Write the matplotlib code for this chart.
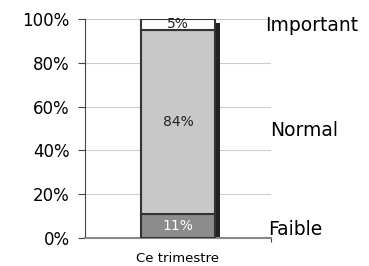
import matplotlib.pyplot as plt
from matplotlib.patches import Rectangle
from matplotlib.transforms import offset_copy

category = 'Ce trimestre'
levels = ['Faible', 'Normal', 'Important']
values = [11, 84, 5]
seg_colors = ['#8c8c8c', '#c8c8c8', '#ffffff']
txt_colors = ['white', '#222222', '#222222']
ticks = [0, 20, 40, 60, 80, 100]

fig = plt.figure(figsize=(3.69, 2.66), dpi=100)
ax = fig.add_axes([85/369, 28/266, 186/369, 219/266])

w = 0.4
# shadow behind the stack, clipped at the axis
sh = Rectangle((-w/2, 0), w, sum(values), facecolor='#222222', edgecolor='none',
               transform=offset_copy(ax.transData, fig=fig, x=5, y=-4, units='dots'),
               zorder=2, clip_on=True)
ax.add_patch(sh)

bottom = 0
for v, c, tc in zip(values, seg_colors, txt_colors):
    ax.bar(0, v, width=w, bottom=bottom, color=c, edgecolor='#333333',
           linewidth=1.5, zorder=3)
    ax.text(0, bottom + v/2, f'{v}%', ha='center', va='center', fontsize=10,
            color=tc, zorder=4)
    bottom += v

ax.set_xlim(-0.5, 0.5)
ax.set_ylim(0, 100)
ax.set_yticks(ticks)
ax.set_yticklabels([f'{t}%' for t in ticks], fontsize=12)
ax.set_xticks([0])
ax.set_xticklabels([category], fontsize=9.5)
ax.set_xticks([0.5], minor=True)
ax.tick_params(axis='x', which='major', length=0, pad=10)
ax.tick_params(axis='x', which='minor', length=3, color='#444444', width=0.8)
ax.tick_params(axis='y', length=5, color='#444444', width=0.8, pad=6)
ax.yaxis.grid(True, color='#cccccc', linewidth=0.8, zorder=0)
ax.set_axisbelow(True)
for s in ['top', 'right']:
    ax.spines[s].set_visible(False)
ax.spines['left'].set_color('#444444')
ax.spines['left'].set_linewidth(0.8)
ax.spines['bottom'].set_color('#888888')
ax.spines['bottom'].set_linewidth(1.5)

label_x = [0.985, 0.995, 0.968]
label_y = [4, 49, 97]
for lab, x, y in zip(levels, label_x, label_y):
    ax.text(x, y, lab, transform=ax.get_yaxis_transform(), fontsize=13.5,
            ha='left', va='center', clip_on=False)

fig.savefig('out.png', dpi=100)
